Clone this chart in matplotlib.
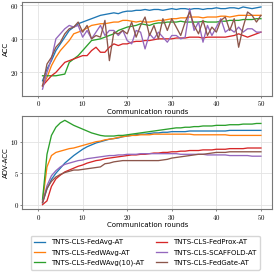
import numpy as np
import matplotlib.pyplot as plt
from matplotlib.ticker import FuncFormatter

plt.rcParams['mathtext.fontset'] = 'cm'

rounds = np.arange(1, 51)

labels = ['TNTS-CLS-FedAvg-AT', 'TNTS-CLS-FedWAvg-AT', 'TNTS-CLS-FedWAvg(10)-AT',
          'TNTS-CLS-FedProx-AT', 'TNTS-CLS-SCAFFOLD-AT', 'TNTS-CLS-FedGate-AT']
colors = ['#1f77b4', '#ff7f0e', '#2ca02c', '#d62728', '#9467bd', '#8c564b']

# ACC
acc_fedavg = [15, 22, 27, 33, 37, 41, 45, 47, 49, 50, 51, 52, 53, 54, 54.5, 55, 55.5, 55, 56, 56.5,
              56.5, 57, 57, 57.5, 57, 57.5, 57.5, 57, 57.5, 58, 57.5, 58, 58, 57.5, 58, 58, 57.5, 58, 58, 58.5,
              58, 58, 58.5, 58.5, 58, 59, 58.5, 58, 58.5, 59]
acc_fedwavg = [12, 17, 24, 29, 33, 36, 39, 43, 44, 45, 46.5, 48, 48.5, 49, 49, 49.5, 50, 50, 51, 51,
               50.5, 50, 50.5, 50, 50, 50.5, 51, 51, 51.5, 52, 52, 52.5, 52.5, 53, 53, 53, 52.5, 53, 53, 53,
               53.5, 53.5, 53, 53.5, 54, 54, 54, 54, 54, 54]
acc_fedwavg10 = [18, 18, 18, 18, 18.5, 19, 26, 28, 30, 33, 36, 39, 39.5, 40, 41, 42, 43, 45, 46, 47,
                 47.5, 48, 49, 48.5, 48, 49, 49.5, 49.5, 50, 50, 50, 50.5, 50, 50, 50, 50, 50.5, 50, 50, 50,
                 50.5, 50.5, 51, 51, 51, 51.5, 51.5, 51.5, 52, 52]
acc_fedprox = [12, 15, 18, 20, 23, 26, 27, 28, 29, 30, 30, 33, 35, 32, 32, 35, 37, 36, 37, 37,
               38, 38.5, 38.5, 39, 39, 39.5, 40, 40, 40, 40, 40.5, 40.5, 40.5, 41, 41, 41, 40.5, 41, 41, 41,
               41, 41, 41.5, 42, 43, 42, 41, 42, 43, 44]
acc_scaffold = [10, 20, 28, 40, 43, 46, 48, 47, 48, 41, 45, 40, 44, 48, 42, 45, 45, 42, 45, 39,
                37, 45, 44, 34, 43, 40, 44, 41, 38, 42, 42, 40, 41, 58, 45, 50, 38, 48, 42, 47,
                52, 44, 46, 44, 47, 44, 46, 46, 44, 44]
acc_fedgate = [12, 25, 29, 35, 38, 43, 46, 47, 50, 44, 48, 40, 42, 41, 51, 27, 44, 43, 45, 43,
               50, 41, 48, 53, 42, 48, 40, 52, 45, 52, 47, 42, 50, 56, 48, 43, 51, 42, 47, 44,
               51, 53, 45, 52, 35, 47, 56, 54, 50, 54]

# ADV-ACC
adv_fedavg = [0.3, 2.5, 4.0, 5.0, 5.8, 6.6, 7.2, 7.8, 8.3, 8.8, 9.2, 9.5, 9.8, 10.0, 10.2, 10.4, 10.5, 10.6, 10.8, 10.9,
              11.0, 11.1, 11.2, 11.2, 11.3, 11.4, 11.4, 11.5, 11.5, 11.6, 11.6, 11.6, 11.6, 11.7, 11.7, 11.7, 11.7, 11.7, 11.7, 11.7,
              11.7, 11.7, 11.8, 11.8, 11.8, 11.8, 11.8, 11.8, 11.8, 11.8]
adv_fedwavg = [0.5, 6.0, 7.8, 8.3, 8.5, 8.7, 8.9, 9.0, 9.2, 9.4, 9.6, 9.8, 10.0, 10.1, 10.3, 10.4, 10.5, 10.7, 10.8, 10.9,
               11.0, 11.0, 11.1, 11.1, 11.1, 11.2, 11.2, 11.2, 11.2, 11.2, 11.2, 11.2, 11.2, 11.2, 11.1, 11.1, 11.1, 11.1, 11.1, 11.1,
               11.1, 11.1, 11.0, 11.0, 11.0, 11.0, 11.0, 11.0, 11.0, 11.0]
adv_fedwavg10 = [0.8, 8.0, 11.0, 12.3, 13.0, 13.4, 13.0, 12.6, 12.3, 12.0, 11.7, 11.4, 11.2, 11.0, 10.9, 10.9, 10.9, 11.0, 11.0, 11.1,
                 11.2, 11.3, 11.4, 11.5, 11.6, 11.7, 11.8, 11.9, 12.0, 12.1, 12.2, 12.2, 12.3, 12.3, 12.4, 12.4, 12.5, 12.5, 12.5, 12.6,
                 12.6, 12.6, 12.7, 12.7, 12.7, 12.8, 12.8, 12.8, 12.9, 12.9]
adv_fedprox = [0.0, 0.6, 2.9, 4.1, 4.7, 5.2, 5.5, 5.8, 6.1, 6.3, 6.6, 6.8, 7.0, 7.1, 7.3, 7.4, 7.5, 7.6, 7.7, 7.8,
               7.9, 7.9, 8.0, 8.0, 8.1, 8.2, 8.2, 8.3, 8.3, 8.4, 8.4, 8.5, 8.5, 8.6, 8.6, 8.6, 8.7, 8.7, 8.7, 8.8,
               8.8, 8.8, 8.9, 8.9, 8.9, 8.9, 9.0, 9.0, 9.0, 9.0]
adv_scaffold = [0.4, 3.0, 4.6, 5.4, 6.0, 6.4, 6.6, 6.8, 7.0, 7.1, 7.3, 7.4, 7.5, 7.6, 7.7, 7.8, 7.8, 7.9, 7.9, 8.0,
                8.0, 8.0, 8.1, 8.1, 8.1, 8.1, 8.1, 8.1, 8.1, 8.1, 8.1, 8.0, 8.0, 8.0, 8.0, 8.0, 8.0, 7.9, 7.9, 7.9,
                7.9, 7.9, 7.8, 7.8, 7.8, 7.8, 7.8, 7.7, 7.7, 7.7]
adv_fedgate = [0.3, 2.6, 3.7, 4.4, 4.8, 5.1, 5.3, 5.5, 5.5, 5.6, 5.7, 5.8, 5.9, 6.0, 6.5, 6.6, 6.8, 6.9, 7.0, 7.0,
               7.0, 7.0, 7.0, 7.0, 7.0, 7.0, 7.0, 7.1, 7.2, 7.4, 7.5, 7.6, 7.7, 7.8, 7.9, 8.0, 8.0, 8.1, 8.2, 8.3,
               8.3, 8.3, 8.4, 8.4, 8.4, 8.4, 8.4, 8.4, 8.4, 8.4]

acc = [acc_fedavg, acc_fedwavg, acc_fedwavg10, acc_fedprox, acc_scaffold, acc_fedgate]
adv = [adv_fedavg, adv_fedwavg, adv_fedwavg10, adv_fedprox, adv_scaffold, adv_fedgate]

fig = plt.figure(figsize=(2.74, 2.74), dpi=100)
ax1 = fig.add_axes([0.082, 0.65, 0.911, 0.343])
ax2 = fig.add_axes([0.082, 0.237, 0.911, 0.34])

for i in range(6):
    ax1.plot(rounds, acc[i], color=colors[i], lw=0.95, label=labels[i])
    ax2.plot(rounds, adv[i], color=colors[i], lw=0.95, label=labels[i])

fmt = FuncFormatter(lambda v, p: '$%d$' % v)
for ax in (ax1, ax2):
    ax.set_xlim(-3.5, 52.5)
    ax.set_xticks([0, 10, 20, 30, 40, 50])
    ax.xaxis.set_major_formatter(fmt)
    ax.yaxis.set_major_formatter(fmt)
    ax.grid(True, color='#e3e3e3', lw=0.6)
    ax.set_axisbelow(True)
    ax.tick_params(labelsize=5, length=1.5, width=0.5, colors='#555555', labelcolor='black', pad=1)
    for s in ax.spines.values():
        s.set_color('#777777')
        s.set_linewidth(0.8)
    ax.set_xlabel('Communication rounds', fontsize=5, labelpad=0.5)

ax1.set_ylim(6, 62)
ax1.set_yticks([20, 40, 60])
ax1.set_ylabel('ACC', fontsize=5, labelpad=1)
ax2.set_ylim(-0.7, 14.1)
ax2.set_yticks([0, 5, 10])
ax2.set_ylabel('ADV-ACC', fontsize=5, labelpad=1)

fig.legend(*ax1.get_legend_handles_labels(), loc='center', bbox_to_anchor=(0.53, 0.077),
           ncol=2, fontsize=5.0, frameon=True, handlelength=1.6, columnspacing=1.8,
           labelspacing=0.6, borderpad=0.5, edgecolor='#cccccc', fancybox=True)

fig.savefig('out.png', dpi=100)
